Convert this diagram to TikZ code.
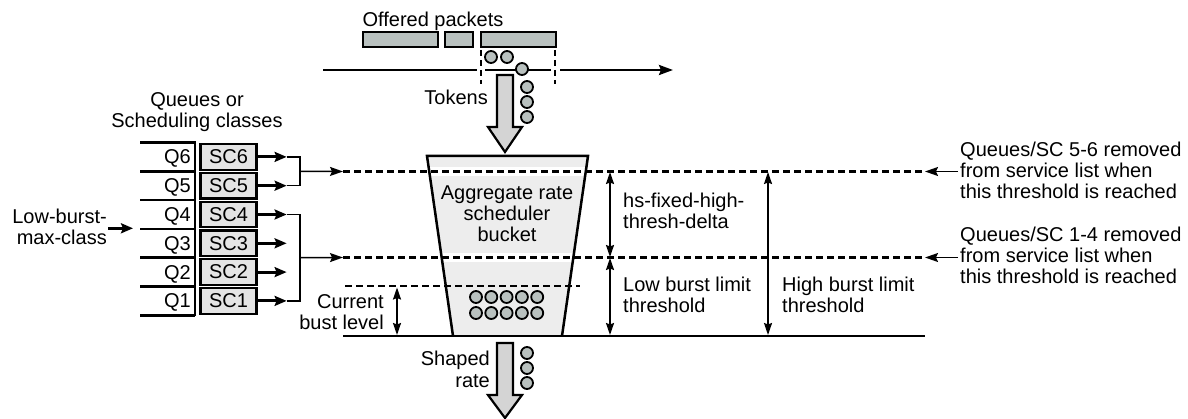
\documentclass[tikz,border=0pt]{standalone}
\usepackage{fontspec}
\setmainfont{Liberation Sans}
\usetikzlibrary{arrows.meta}

\definecolor{ballgray}{HTML}{B9C1BF}
\definecolor{arrowgray}{HTML}{D4D4D4}
\definecolor{bucketgray}{HTML}{EDEDED}
\definecolor{cellgray}{HTML}{E4E4E4}

\tikzset{
  txt/.style={font=\fontsize{20}{21}\selectfont, inner sep=0pt},
  solidline/.style={line width=2.5pt},
  levelline/.style={line width=2.4pt, dash pattern=on 7pt off 4pt},
  flow/.style={line width=3pt, -{Stealth[length=12pt,width=10pt,inset=2pt]}},
  measure/.style={line width=1.7pt, {Stealth[length=12pt,width=8pt,inset=1.5pt]}-{Stealth[length=12pt,width=8pt,inset=1.5pt]}},
  note/.style={line width=1.4pt, -{Stealth[length=13pt,width=9pt,inset=2pt]}},
  bracket/.style={line width=1.4pt},
  sccell/.style={draw, line width=2.2pt, fill=cellgray, minimum width=56pt,
    minimum height=25.6pt, inner sep=0pt, txt},
  blockarrow/.style={draw, line width=2.2pt, fill=arrowgray, line join=miter},
  tokenball/.style={draw, line width=1.8pt, fill=ballgray},
}

% wide down arrow: x centre, y top, y head, y tip
\newcommand{\flowarrow}[4]{%
  \filldraw[blockarrow] (#1-8,#2) -- (#1+8,#2) -- (#1+8,#3) -- (#1+17,#3)
    -- (#1,#4) -- (#1-17,#3) -- (#1-8,#3) -- cycle;}

\begin{document}
\begin{tikzpicture}[x=1pt,y=-1pt]
  \useasboundingbox (0,0) rectangle (1188,419);

  % offered packets on the time line
  \node[txt, anchor=base] (offered) at (433,27) {Offered packets};
  \filldraw[solidline, fill=ballgray] (363,32) rectangle (438,47);
  \filldraw[solidline, fill=ballgray] (445,32) rectangle (473,47);
  \filldraw[solidline, fill=ballgray] (481,32) rectangle (556,47);
  \draw[solidline, -{Stealth[length=14pt,width=10pt,inset=2pt]}] (323,70) -- (673,70);
  \fill[white] (477,66) rectangle (485,74);
  \fill[white] (551,66) rectangle (560,74);
  \draw[line width=1.6pt, dash pattern=on 6pt off 4pt] (481,50) -- (481,84);
  \draw[line width=1.6pt, dash pattern=on 6pt off 4pt] (555,50) -- (555,84);

  % tokens
  \foreach \p in {(491,57),(507,57),(522,69),(527,87),(527,102),(527,117)}
    \filldraw[tokenball] \p circle (6);
  \flowarrow{505}{75}{127}{152}
  \node[txt, anchor=base east] (tokens) at (488,105) {Tokens};

  % bucket
  \fill[bucketgray] (453,336) -- (427,156) -- (588,156) -- (562,336) -- cycle;
  \fill[white] (420,167) rectangle (600,176);
  \fill[white] (420,253) rectangle (600,262);
  \draw[solidline, line join=miter] (453,336) -- (427,156) -- (588,156) -- (562,336);
  \node[txt, align=center, anchor=base] (bucket) at (507,242)
    {Aggregate rate\\scheduler\\bucket};
  \foreach \i in {0,...,4}
    \foreach \j in {297,313}
      \filldraw[tokenball] (476+15.3*\i,\j) circle (6);

  % thresholds
  \coordinate (hi) at (343,171.5);
  \coordinate (lo) at (343,257.5);
  \coordinate (hiend) at (925,171.5);
  \coordinate (loend) at (925,257.5);
  \draw[levelline] (hi) -- (hiend);
  \draw[levelline] (lo) -- (loend);
  \draw[levelline] (345,286) -- (580,286);
  \draw[solidline] (343,336) -- (925,336);

  % current level
  \node[txt, align=right, anchor=base east] (current) at (384,330) {Current\\bust level};
  \draw[measure] (397,287.5) -- (397,335);

  % measures on the right
  \draw[measure] (610,172) -- (610,257);
  \draw[measure] (610,258) -- (610,335);
  \draw[measure] (768,172) -- (768,335);
  \node[txt, align=left, anchor=base west] (delta) at (623,229) {hs-fixed-high-\\thresh-delta};
  \node[txt, align=left, anchor=base west] (lowlim) at (623,313) {Low burst limit\\threshold};
  \node[txt, align=left, anchor=base west] (highlim) at (782,313) {High burst limit\\threshold};

  % removal notes
  \node[txt, align=left, anchor=base west] (remhi) at (960,199)
    {Queues/SC 5-6 removed\\from service list when\\this threshold is reached};
  \node[txt, align=left, anchor=base west] (remlo) at (960,284)
    {Queues/SC 1-4 removed\\from service list when\\this threshold is reached};
  \draw[note] ([xshift=-2pt]remhi.west |- hiend) -- (hiend);
  \draw[note] ([xshift=-2pt]remlo.west |- loend) -- (loend);

  % shaped output
  \flowarrow{505}{343}{395}{418}
  \foreach \y in {353,368,383}
    \filldraw[tokenball] (527,\y) circle (6);
  \node[txt, align=right, anchor=base east] (shaped) at (490,387) {Shaped\\rate};

  % queues and scheduling classes
  \node[txt, align=center, anchor=base] (queues) at (197,128) {Queues or\\Scheduling classes};
  \foreach \k in {0,...,6}
    \draw[solidline] (140,142.5+28.8*\k) -- (195,142.5+28.8*\k);
  \draw[solidline] (195,141.3) -- (195,316.5);
  \foreach \n [count=\r from 0] in {6,5,4,3,2,1} {
    \node[txt, anchor=base east] (q\n) at (191,164+28.8*\r) {Q\n};
    \node[sccell] (sc\n) at (228.5,156.9+28.8*\r) {SC\n};
    \draw[flow] (sc\n.east) -- ++(29,0);
  }

  % brackets to the thresholds
  \draw[bracket] (287,156.9) -| (300,185.7) -- (287,185.7);
  \draw[note] (300,171.3) -- (hi);
  \draw[bracket] (287,214.5) -| (300,300.9) -- (287,300.9);
  \draw[note] (300,257.7) -- (lo);

  % low burst max class
  \coordinate (q34) at (133,228.3);
  \node[txt, align=right, anchor=base east] (lbmc) at (107,245) {Low-burst-\\max-class};
  \draw[flow] ([xshift=1pt]lbmc.east |- q34) -- (q34);
\end{tikzpicture}
\end{document}
